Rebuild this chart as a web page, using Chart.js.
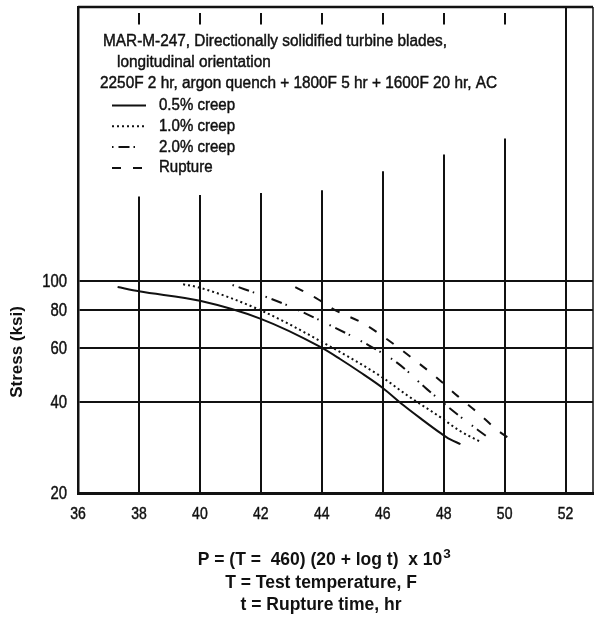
<!DOCTYPE html>
<html>
<head>
<meta charset="utf-8">
<script src="https://cdn.jsdelivr.net/npm/chart.js@4/dist/chart.umd.min.js"></script>
<style>
  html, body { margin: 0; padding: 0; background: #fff; }
  #wrap { width: 594px; height: 618px; }
</style>
</head>
<body>
<div id="wrap"><canvas id="chart" width="594" height="618"></canvas></div>
<script>
// Larson-Miller parameter (x10^3) against stress in ksi
const creep05P = [37.3, 38, 40, 42, 43.95, 44.6, 45.25, 46, 46.67, 47.23, 47.9, 48.2, 48.55];
const creep05S = [95.5, 92.5, 86, 75, 60.6, 55.3, 50.1, 44.4, 39, 35.3, 31.5, 30.1, 29];

const creep10P = [39.45, 40, 42, 44, 46, 46.8, 47.9, 48.5, 49.2];
const creep10S = [97.5, 95, 80, 63, 48, 42, 35.5, 32.2, 29.5];

const creep20P = [41.07, 42.25, 43.07, 44.2, 45.4, 46.5, 47.45, 48.5, 49.45];
const creep20S = [97, 88, 81.5, 72, 62.5, 53.5, 44, 36, 30.5];

const ruptureP = [43.13, 43.8, 44.45, 45.3, 45.95, 47.26, 47.9, 48.45, 49.13, 49.75, 50.38];
const ruptureS = [95.5, 88, 80, 73, 66.3, 52.8, 46.8, 41.8, 36.7, 32.3, 29.2];

const stressTicks = [20, 40, 60, 80, 100];
const paramTicks = [36, 38, 40, 42, 44, 46, 48, 50, 52];

// vertical rules start at different heights under the note block
const ruleP = [38, 40, 42, 44, 46, 48, 50, 52];
const ruleTop = [190, 192, 195, 199, 230, 261, 295, 800];

const seriesNames = ["0.5% creep", "1.0% creep", "2.0% creep", "Rupture"];
const noteLines = [
  "MAR-M-247, Directionally solidified turbine blades,",
  "longitudinal orientation",
  "2250F 2 hr, argon quench + 1800F 5 hr + 1600F 20 hr, AC"
];

const FONT = '"Liberation Sans", Arial, sans-serif';
const INK = "#111";

function pairs(px, sy) {
  return px.map((p, i) => ({ x: p, y: sy[i] }));
}

const dashes = [[], [2, 3], [1.5, 5, 11, 4, 1.5, 12], [9, 12]];

function makeSet(label, px, sy, dash) {
  return {
    label: label,
    data: pairs(px, sy),
    borderColor: INK,
    borderWidth: 2,
    borderDash: dash,
    pointRadius: 0,
    fill: false,
    cubicInterpolationMode: "monotone"
  };
}

// squeezed, slightly heavy text: the print uses a condensed face
function text(ctx, str, x, y, size, opts) {
  opts = opts || {};
  const sx = opts.sx || 1;
  ctx.save();
  ctx.font = (opts.bold ? "bold " : "") + size + "px " + FONT;
  ctx.textAlign = opts.align || "left";
  ctx.textBaseline = opts.base || "alphabetic";
  ctx.translate(x, y);
  ctx.scale(sx, 1);
  ctx.fillText(str, 0, 0);
  if (!opts.bold) {
    ctx.lineWidth = 0.45;
    ctx.strokeText(str, 0, 0);
  }
  ctx.restore();
}

const decor = {
  id: "decor",
  beforeDatasetsDraw(chart) {
    const ctx = chart.ctx;
    const xs = chart.scales.x;
    const ys = chart.scales.y;
    const area = chart.chartArea;
    ctx.save();
    ctx.strokeStyle = INK;
    ctx.lineWidth = 2;
    ruleP.forEach((p, i) => {
      const x = Math.round(xs.getPixelForValue(p));
      ctx.beginPath();
      ctx.moveTo(x, ys.getPixelForValue(ruleTop[i]));
      ctx.lineTo(x, area.bottom);
      ctx.stroke();
      // short marks hanging from the top frame
      if (ruleTop[i] < 800) {
        ctx.beginPath();
        ctx.moveTo(x, ys.getPixelForValue(765));
        ctx.lineTo(x, ys.getPixelForValue(700));
        ctx.stroke();
      }
    });
    // top and right frame
    ctx.lineWidth = 2.5;
    ctx.beginPath();
    ctx.moveTo(area.left, area.top);
    ctx.lineTo(area.right, area.top);
    ctx.stroke();
    ctx.lineWidth = 1.5;
    ctx.beginPath();
    ctx.moveTo(area.right, area.top);
    ctx.lineTo(area.right, area.bottom);
    ctx.stroke();
    ctx.restore();
  },
  afterDraw(chart) {
    const ctx = chart.ctx;
    const xs = chart.scales.x;
    const ys = chart.scales.y;
    const area = chart.chartArea;
    ctx.save();
    ctx.fillStyle = INK;
    ctx.strokeStyle = INK;

    // tick labels
    ys.ticks.forEach(t => {
      text(ctx, String(t.value), area.left - 11, ys.getPixelForValue(t.value) + 1,
        17.5, { align: "right", base: "middle", sx: 0.85 });
    });
    xs.ticks.forEach(t => {
      text(ctx, String(t.value), xs.getPixelForValue(t.value), area.bottom + 21,
        16.5, { align: "center", base: "middle", sx: 0.85 });
    });

    text(ctx, noteLines[0], 103, 46, 16, { sx: 0.96 });
    text(ctx, noteLines[1], 117, 67, 16, { sx: 0.96 });
    text(ctx, noteLines[2], 100, 88, 16, { sx: 0.96 });

    // legend rows
    chart.data.datasets.forEach((ds, i) => {
      const y = 105.5 + i * 20.8;
      ctx.setLineDash(ds.borderDash);
      ctx.lineWidth = 2;
      ctx.beginPath();
      ctx.moveTo(112, y);
      ctx.lineTo(146, y);
      ctx.stroke();
      ctx.setLineDash([]);
      text(ctx, ds.label, 159, y + 4.5, 16, { sx: 0.94 });
    });

    // y axis title
    ctx.save();
    ctx.translate(22, 352);
    ctx.rotate(-Math.PI / 2);
    text(ctx, "Stress (ksi)", 0, 0, 17, { bold: true, align: "center" });
    ctx.restore();

    // parameter definition under the axis
    const head = "P = (T =  460) (20 + log t)  x 10";
    ctx.font = "bold 17.5px " + FONT;
    const w = ctx.measureText(head).width;
    const x0 = 325 - 5 - w / 2;
    text(ctx, head, x0, 565, 17.5, { bold: true });
    text(ctx, "3", x0 + w + 1, 558, 13.5, { bold: true });
    text(ctx, "T = Test temperature, F", 321, 588, 17.5, { bold: true, align: "center" });
    text(ctx, "t = Rupture time, hr", 321, 610, 17.5, { bold: true, align: "center" });
    ctx.restore();
  }
};

new Chart(document.getElementById("chart"), {
  type: "line",
  data: {
    datasets: [
      makeSet(seriesNames[0], creep05P, creep05S, dashes[0]),
      makeSet(seriesNames[1], creep10P, creep10S, dashes[1]),
      makeSet(seriesNames[2], creep20P, creep20S, dashes[2]),
      makeSet(seriesNames[3], ruptureP, ruptureS, dashes[3])
    ]
  },
  options: {
    responsive: false,
    animation: false,
    devicePixelRatio: 1,
    layout: { padding: { top: 7, right: 1, left: 0, bottom: 0 } },
    plugins: {
      legend: { display: false },
      tooltip: { enabled: false }
    },
    scales: {
      x: {
        type: "linear",
        min: 36,
        max: 52.9,
        afterBuildTicks: (s) => { s.ticks = paramTicks.map(v => ({ value: v })); },
        afterFit: (s) => {
          s.height = 125;
          s.paddingLeft = 0;
          s.paddingRight = 0;
        },
        grid: { display: false, drawTicks: false },
        border: { display: true, color: INK, width: 3 },
        ticks: { display: false }
      },
      y: {
        type: "logarithmic",
        min: 20,
        max: 800,
        afterBuildTicks: (s) => { s.ticks = stressTicks.map(v => ({ value: v })); },
        afterFit: (s) => {
          s.width = 78;
          s.paddingTop = 0;
          s.paddingBottom = 0;
        },
        grid: { color: INK, lineWidth: 2, drawTicks: false },
        border: { display: true, color: INK, width: 2.5 },
        ticks: { display: false }
      }
    }
  },
  plugins: [decor]
});
</script>
</body>
</html>
